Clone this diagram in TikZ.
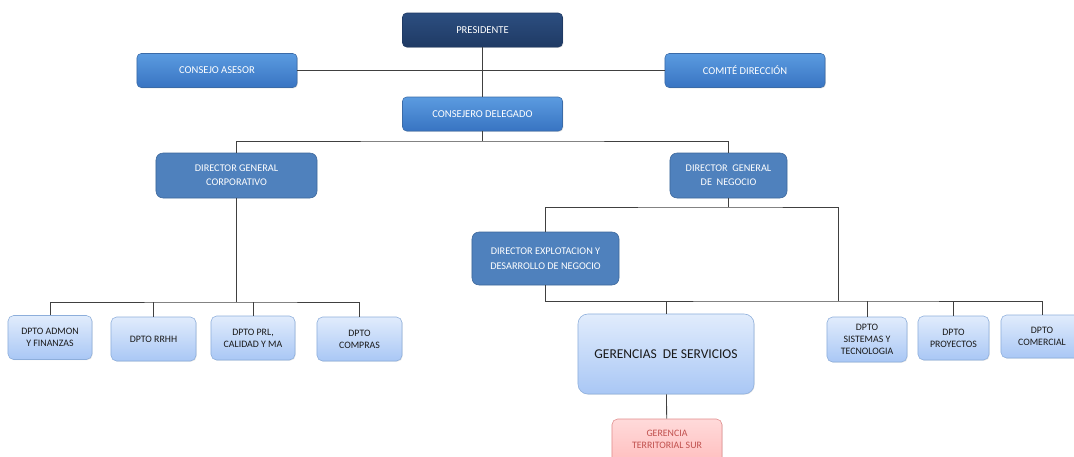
\documentclass[tikz,border=0pt]{standalone}
\usepackage{fontspec}
\setmainfont{Carlito}
\usepackage{xcolor}
\usetikzlibrary{positioning,shadows}

\definecolor{navy}{HTML}{1F3A64}
\definecolor{navytop}{HTML}{2C4E80}
\definecolor{bluetop}{HTML}{5B9BE0}
\definecolor{bluebot}{HTML}{3874C2}
\definecolor{blueedge}{HTML}{3A6BA8}
\definecolor{steel}{HTML}{4F81BD}
\definecolor{steeledge}{HTML}{3C6699}
\definecolor{lighttop}{HTML}{E1ECFC}
\definecolor{lightbot}{HTML}{A9C7F5}
\definecolor{lightedge}{HTML}{8DAEDB}
\definecolor{pinktop}{HTML}{FFDADA}
\definecolor{pinkbot}{HTML}{FFB9B9}
\definecolor{pinkedge}{HTML}{E08C8C}
\definecolor{pinktext}{HTML}{C0504D}
\definecolor{linegray}{HTML}{404040}

\begin{document}
\begin{tikzpicture}[
    x=0.025cm, y=-0.025cm,
    topbox/.style={draw=blueedge, rounded corners=3pt, top color=bluetop, bottom color=bluebot,
        text=white, minimum width=4cm, minimum height=0.85cm, align=center,
        font=\fontsize{7.5}{9}\selectfont,
        drop shadow={opacity=0.25, shadow xshift=0.6pt, shadow yshift=-0.6pt}},
    dirbox/.style={draw=steeledge, rounded corners=5pt, fill=steel, text=white,
        minimum height=1.125cm, align=center, font=\fontsize{7.3}{10}\selectfont},
    deptbox/.style={draw=lightedge, rounded corners=4pt, top color=lighttop, bottom color=lightbot,
        text=black!90, minimum height=1.1cm, align=center, font=\fontsize{7}{8.5}\selectfont,
        drop shadow={opacity=0.2, shadow xshift=0.5pt, shadow yshift=-0.5pt}},
    line/.style={draw=linegray, line width=0.6pt},
]
    \useasboundingbox (0,0) rectangle (1074,456);

    % top level
    \node[topbox, draw=navy, top color=navytop, bottom color=navy] (pres) at (482.5,30) {PRESIDENTE};
    \node[topbox] (ases) at (217,70.5) {CONSEJO ASESOR};
    \node[topbox] (comite) at (745,70.5) {COMITÉ DIRECCIÓN};
    \node[topbox] (cdel) at (482.5,114) {CONSEJERO DELEGADO};

    % directors
    \node[dirbox, minimum width=4.025cm] (dgcorp) at (236.5,175.5) {DIRECTOR GENERAL\\CORPORATIVO};
    \node[dirbox, minimum width=2.925cm] (dgneg) at (728.5,175.5) {DIRECTOR\ \ GENERAL\\DE\ \ NEGOCIO};
    \node[dirbox, minimum width=3.675cm, minimum height=1.325cm, font=\fontsize{7.3}{11}\selectfont] (dirx) at (545.5,258.5) {DIRECTOR EXPLOTACION Y\\DESARROLLO DE NEGOCIO};

    % departments
    \node[deptbox, minimum width=2.1cm] (dadm) at (50,337.5) {DPTO ADMON\\Y FINANZAS};
    \node[deptbox, minimum width=2.125cm] (drh) at (153.5,339) {DPTO RRHH};
    \node[deptbox, minimum width=2.1cm] (dprl) at (253,338) {DPTO PRL,\\CALIDAD Y MA};
    \node[deptbox, minimum width=2.125cm] (dcpr) at (359.5,339) {DPTO\\COMPRAS};
    \node[deptbox, rounded corners=7pt, minimum width=4.4cm, minimum height=2cm,
        font=\fontsize{9.6}{11}\selectfont] (gser) at (666,354) {GERENCIAS\ \ DE SERVICIOS};
    \node[deptbox, draw=pinkedge, top color=pinktop, bottom color=pinkbot, text=pinktext,
        minimum width=2.75cm, minimum height=1.3cm, text depth=0.3cm] (gter) at (667,445) {GERENCIA\\TERRITORIAL SUR};
    \node[deptbox, minimum width=2cm, minimum height=1.125cm] (dsis) at (867,339.5) {DPTO\\SISTEMAS Y\\TECNOLOGIA};
    \node[deptbox, minimum width=1.775cm] (dpro) at (953.5,338) {DPTO\\PROYECTOS};
    \node[deptbox, minimum width=2.05cm, minimum height=1.075cm] (dcom) at (1042,336.5) {DPTO\\COMERCIAL};

    % bus points
    \coordinate (busA) at (482.5,141);
    \coordinate (busB) at (728.5,207);
    \coordinate (busC) at (838,301);
    \coordinate (busD) at (236.5,302);

    % connectors
    \draw[line] (pres) -- (cdel);
    \draw[line] (ases) -- (comite);
    \draw[line] (cdel) -- (busA);
    \draw[line] (dgcorp) |- (busA) -| (dgneg);
    \draw[line] (dgneg) -- (busB);
    \draw[line] (dirx) |- (busB) -| (busC);
    \draw[line] (dirx.south) |- (busC) -| (dcom);
    \draw[line] (gser.north) -- (gser.north |- busC);
    \draw[line] (dsis.north) -- (dsis.north |- busC);
    \draw[line] (dpro.north) -- (dpro.north |- busC);
    \draw[line] (gser) -- (gter);
    \draw[line] (dgcorp) -- (busD);
    \draw[line] (dadm) |- (busD) -| (dcpr);
    \draw[line] (drh.north) -- (drh.north |- busD);
    \draw[line] (dprl.north) -- (dprl.north |- busD);
\end{tikzpicture}
\end{document}
